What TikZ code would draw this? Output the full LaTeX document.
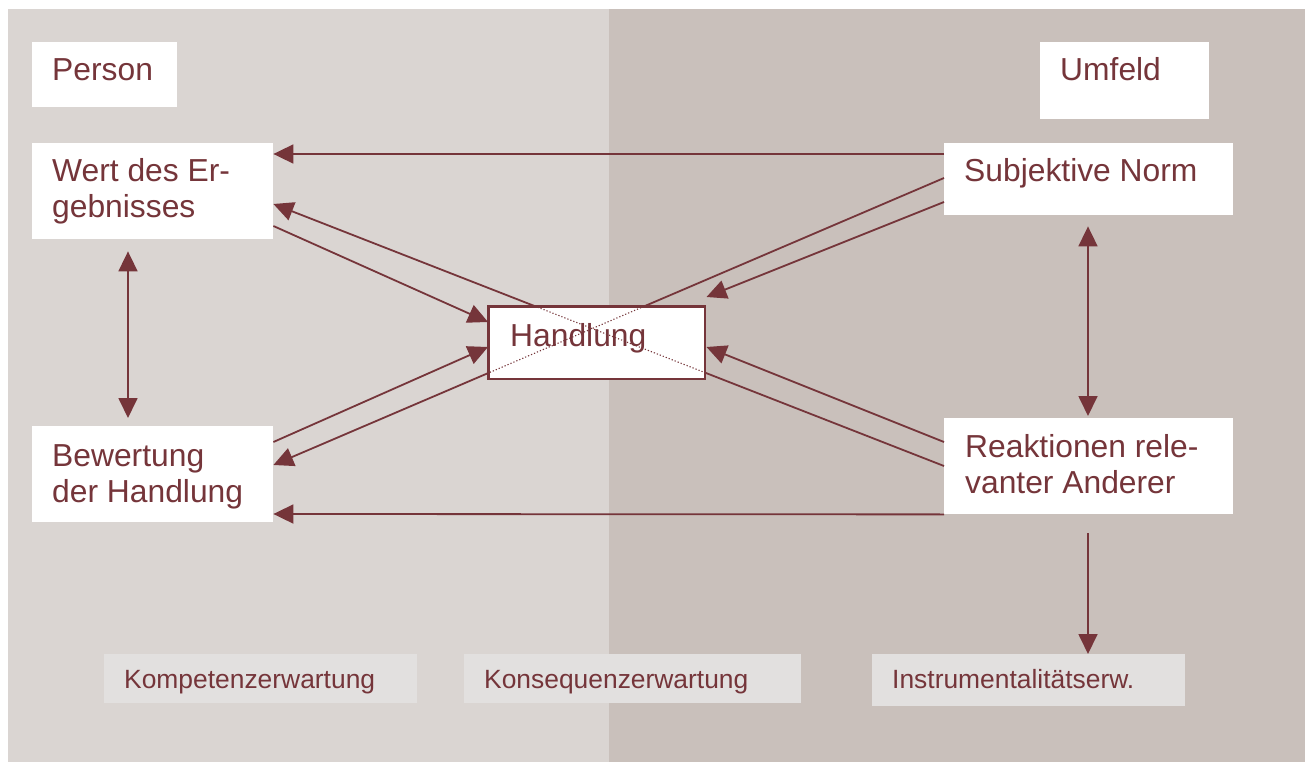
\documentclass[tikz,border=0pt]{standalone}
\usepackage{fontspec}
\setmainfont{Liberation Sans}
\usetikzlibrary{arrows.meta,calc}
\definecolor{leftbg}{RGB}{218,213,210}
\definecolor{rightbg}{RGB}{201,192,187}
\definecolor{labelbg}{RGB}{226,224,223}
\definecolor{wine}{RGB}{117,53,58}
\begin{document}
\begin{tikzpicture}[x=1pt,y=-1pt,
  box/.style={draw=none,fill=white,inner sep=0pt,anchor=north west},
  lbox/.style={draw=none,fill=labelbg,inner sep=0pt,anchor=north west},
  txt/.style={inner sep=0pt,anchor=base west,text=wine,font=\fontsize{31.8}{36}\selectfont},
  small/.style={inner sep=0pt,anchor=base west,text=wine,font=\fontsize{26.4}{30}\selectfont},
  conn/.style={draw=wine,line width=1.8pt,-{Triangle[length=20pt,width=19pt]}},
  plain/.style={draw=wine,line width=1.8pt},
  both/.style={draw=wine,line width=1.8pt,{Triangle[length=20pt,width=19pt]}-{Triangle[length=20pt,width=19pt]}},
  dots/.style={draw=wine,line width=1.1pt,dash pattern=on 1.2pt off 2pt}
  ]
\useasboundingbox (0,0) rectangle (1307,762);
\fill[leftbg] (8,9) rectangle (609,762);
\fill[rightbg] (609,9) rectangle (1305,762);

% boxes
\node[box,minimum width=145pt,minimum height=65pt] (person) at (32,42) {};
\node[box,minimum width=169pt,minimum height=77pt] (umfeld) at (1040,42) {};
\node[box,minimum width=241pt,minimum height=96pt] (wert) at (32,143) {};
\node[box,minimum width=289pt,minimum height=72pt] (norm) at (944,143) {};
\node[box,minimum width=241pt,minimum height=96pt] (bewert) at (32,426) {};
\node[box,minimum width=289pt,minimum height=96pt] (reakt) at (944,418) {};
\node[lbox,minimum width=313pt,minimum height=49pt] (kompetenz) at (104,654) {};
\node[lbox,minimum width=337pt,minimum height=49pt] (konsequenz) at (464,654) {};
\node[lbox,minimum width=313pt,minimum height=52pt] (instrument) at (872,654) {};

% crossing lines (behind Handlung)
\coordinate (c7a) at ($(reakt.north west)+(0,48)$);
\coordinate (c7b) at ($(wert.north east)+(0,61)$);
\coordinate (c8a) at ($(norm.north west)+(0,35)$);
\coordinate (c8b) at ($(bewert.north east)+(0,39)$);
\draw[conn] (c7a) -- (c7b);
\draw[conn] (c8a) -- (c8b);

% Handlung
\node[draw=wine,line width=1.5pt,fill=white,inner sep=0pt,anchor=north west,
      minimum width=216pt,minimum height=72pt] (handlung) at (488,306) {};
\begin{scope}
  \clip (handlung.north west) rectangle (handlung.south east);
  \draw[dots] (c7a) -- (c7b);
  \draw[dots] (c8a) -- (c8b);
\end{scope}
\draw[draw=wine,line width=1.5pt] (handlung.north west) rectangle (handlung.south east);

% other connectors
\draw[conn] ($(norm.north west)+(0,11)$) -- ($(wert.north east)+(0,11)$);
\draw[conn] (reakt.south west) -- ($(bewert.north east)+(0,88)$);
\draw[conn] ($(wert.north east)+(0,83)$) -- ($(handlung.north west)+(0,16)$);
\draw[conn] ($(bewert.north east)+(0,16)$) -- ($(handlung.north west)+(0,41)$);
\draw[conn] ($(norm.north west)+(0,59)$) -- ($(handlung.north east)+(1,-9)$);
\draw[conn] ($(reakt.north west)+(0,24)$) -- ($(handlung.north east)+(1,41)$);
\draw[both] ($(wert.south west)+(96,12)$) -- ($(bewert.north west)+(96,-8)$);
\draw[both] ($(norm.south west)+(144,11)$) -- ($(reakt.north west)+(144,-2)$);
\draw[conn] ($(reakt.south west)+(144,19)$) -- ($(instrument.north west)+(216,0)$);

% texts
\node[txt] (personT) at (52,81) {Person};
\node[txt] (umfeldT) at (1060,81) {Umfeld};
\node[txt] (wertA) at (52,182) {Wert des Er-};
\node[txt] (wertB) at (52,218) {gebnisses};
\node[txt] (normT) at (964,182) {Subjektive Norm};
\node[txt] (handT) at (510,346) {Handlung};
\node[txt] (bewA) at (52,466) {Bewertung};
\node[txt] (bewB) at (52,502) {der Handlung};
\node[txt] (reaA) at (965,457) {Reaktionen rele-};
\node[txt] (reaB) at (965,493) {vanter Anderer};
\node[small] (kompT) at (124,688) {Kompetenzerwartung};
\node[small] (konsT) at (484,688) {Konsequenzerwartung};
\node[small] (instT) at (892,688) {Instrumentalitätserw.};
\end{tikzpicture}
\end{document}
